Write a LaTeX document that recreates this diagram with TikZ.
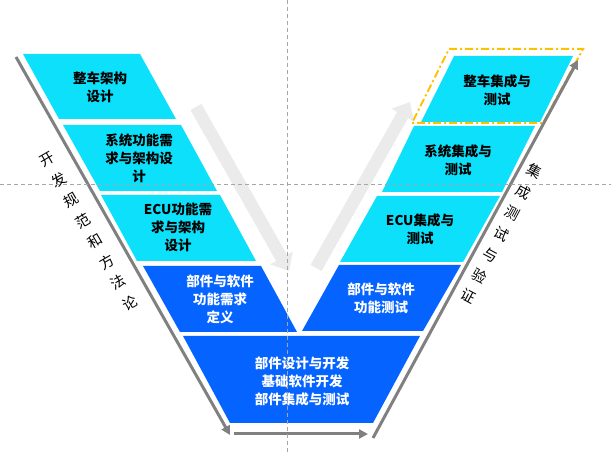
\documentclass[tikz,border=0pt]{standalone}
\usepackage{fontspec}
\newfontfamily\cjk{Noto Sans CJK SC}
\usetikzlibrary{arrows.meta}
\definecolor{cyanbloc}{RGB}{13,224,250}
\definecolor{bleubloc}{RGB}{5,99,255}
\definecolor{grisfleche}{RGB}{235,235,235}
\definecolor{grisligne}{RGB}{128,128,128}
\definecolor{grisguide}{RGB}{166,166,166}
\definecolor{orangecadre}{RGB}{255,192,0}

\begin{document}
\begin{tikzpicture}[x=1pt,y=-1pt]
\tikzstyle{ligne}=[-{Triangle[width=9pt,length=9pt]},line width=3pt,draw=grisligne]
\tikzstyle{grande}=[-{Triangle[width=25pt,length=15pt]},line width=12.5pt,draw=grisfleche]
\tikzset{etape/.style={font=\cjk\bfseries\fontsize{13.5}{18}\selectfont,align=center,text=#1,inner sep=0pt},
etape/.default={black}}
\tikzset{cote/.style={font=\cjk\fontsize{14.5}{23.7}\selectfont,align=center,inner sep=0pt}}
\useasboundingbox (0,0) rectangle (611,454);

% grandes fleches grises
\coordinate (a1) at (196,107); \coordinate (a2) at (289,271);
\coordinate (a3) at (316,268); \coordinate (a4) at (410,102);
\draw[grande] (a1) -- (a2);
\draw[grande] (a3) -- (a4);

% branche gauche
\fill[cyanbloc] (23,54) -- (140,54) -- (176,119) -- (59,119) -- cycle;
\fill[cyanbloc] (63,125) -- (181,125) -- (217,191) -- (100,191) -- cycle;
\fill[cyanbloc] (101,195) -- (220,195) -- (256,261) -- (137,261) -- cycle;
\fill[bleubloc] (143,266) -- (261,266) -- (297,332) -- (180,332) -- cycle;
% bas
\fill[bleubloc] (183,336) -- (420,336) -- (373,423) -- (230,423) -- cycle;
% branche droite
\fill[bleubloc] (339,265) -- (461,265) -- (423,331) -- (302,331) -- cycle;
\fill[cyanbloc] (377,196) -- (500,196) -- (463,262) -- (340,262) -- cycle;
\fill[cyanbloc] (414,126) -- (535,126) -- (502,192) -- (382,192) -- cycle;
\fill[cyanbloc] (454,56) -- (573,56) -- (540,122) -- (421,122) -- cycle;
\draw[orangecadre,line width=2pt,dash pattern=on 8pt off 3pt on 2pt off 3pt] (449,49) -- (583,49) -- (543,123) -- (412,123) -- cycle;

\node[etape] (g1) at (100,87.5) {整车架构\\设计};
\node[etape] (g2) at (139,158.5) {系统功能需\\求与架构设\\计};
\node[etape] (g3) at (178,227.5) {ECU功能需\\求与架构\\设计};
\node[etape=white] (g4) at (220,299) {部件与软件\\功能需求\\定义};
\node[etape=white] (bas) at (302,381) {部件设计与开发\\基础软件开发\\部件集成与测试};
\node[etape=white] (d4) at (381,298) {部件与软件\\功能测试};
\node[etape] (d3) at (420,229) {ECU集成与\\测试};
\node[etape] (d2) at (458,160) {系统集成与\\测试};
\node[etape] (d1) at (497,90.5) {整车集成与\\测试};

% lignes du V
\coordinate (gH) at (16,57); \coordinate (gB) at (230,435);
\coordinate (bG) at (234,434); \coordinate (bD) at (368,434);
\coordinate (dB) at (373,438); \coordinate (dH) at (578,60);
\draw[ligne] (gH) -- (gB);
\draw[ligne] (bG) -- (bD);
\draw[ligne] (dB) -- (dH);

\node[cote,rotate=30] (dev) at (89,231.5) {开\\发\\规\\范\\和\\方\\法\\论};
\node[cote,rotate=-28] (integ) at (501.5,233.5) {集\\成\\测\\试\\与\\验\\证};

% reperes
\draw[grisguide,line width=0.8pt,dash pattern=on 4pt off 3pt] (287,0) -- (287,454);
\draw[grisguide,line width=0.8pt,dash pattern=on 4pt off 3pt] (0,184) -- (611,184);

\end{tikzpicture}
\end{document}
